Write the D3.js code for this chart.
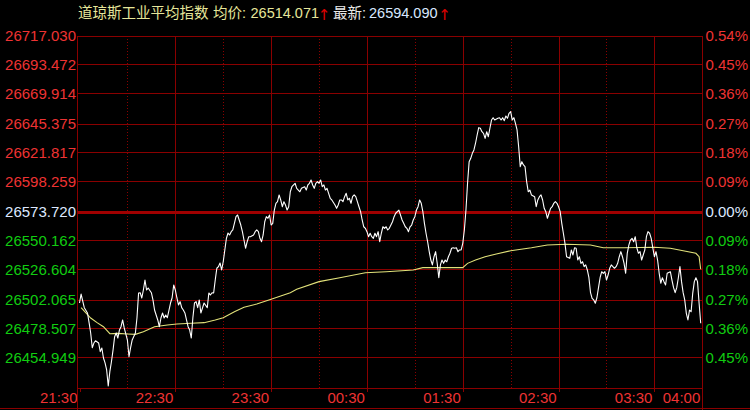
<!DOCTYPE html>
<html><head><meta charset="utf-8">
<script src="https://cdn.jsdelivr.net/npm/d3@7"></script>
<style>
html,body{margin:0;padding:0;background:#000;}
svg{display:block;}
</style></head><body>
<svg id="chart" width="750" height="410"></svg>
<script>
// ---------- data ----------
const titleName = "道琼斯工业平均指数";
const avgLabel = "均价:";
const avgValue = "26514.071";
const lastLabel = "最新:";
const lastValue = "26594.090";
const prevClose = 26573.720;

const priceTicks = [26717.030, 26693.472, 26669.914, 26645.375, 26621.817, 26598.259, 26573.720,
                    26550.162, 26526.604, 26502.065, 26478.507, 26454.949, 26430.410];
const priceLabels = ["26717.030","26693.472","26669.914","26645.375","26621.817","26598.259","26573.720",
                     "26550.162","26526.604","26502.065","26478.507","26454.949",""];
const pctLabels = ["0.54%","0.45%","0.36%","0.27%","0.18%","0.09%","0.00%",
                   "0.09%","0.18%","0.27%","0.36%","0.45%",""];

// minutes since 21:30
const timeTickMinutes = [0, 60, 120, 180, 240, 300, 360, 390];
const timeLabels = ["21:30","22:30","23:30","00:30","01:30","02:30","03:30","04:00"];
const halfHourGrid = [60, 120, 180, 240, 300, 360];
const hourGrid = [30, 90, 150, 210, 270, 330];

const minutes = [0,1,3,5,6,7,8,9,10,12,13,14,15,16,17,18,19,20,21,22,23,24,25,26,27,28,30,31,32,33,35,36,37,38,39,40,41,42,43,45,46,47,49,50,51,52,53,54,55,57,58,59,60,61,62,63,64,65,66,67,68,69,70,71,72,73,74,75,76,77,78,80,81,82,83,84,85,86,87,88,89,90,91,92,93,94,95,96,97,98,99,100,101,102,103,104,105,106,107,109,110,111,112,113,114,115,116,117,118,119,120,121,122,123,124,125,126,127,128,129,130,131,132,133,135,136,137,138,139,141,142,143,144,145,146,147,148,149,150,151,152,153,154,155,156,157,158,160,161,162,163,164,165,166,167,168,169,170,171,172,173,174,175,176,177,178,179,180,181,182,183,184,185,186,187,188,189,190,191,192,193,194,195,196,197,198,200,201,202,203,204,205,206,207,208,209,210,211,212,213,214,215,216,217,218,219,220,221,222,223,224,225,226,227,228,229,230,231,232,233,234,235,236,237,238,239,240,241,242,243,244,245,246,247,248,249,250,251,252,253,254,255,256,257,258,259,260,262,263,264,265,266,267,268,269,270,271,272,273,274,275,276,277,278,279,280,281,282,283,285,286,287,288,289,290,291,292,293,294,295,296,297,298,299,300,301,302,303,304,305,307,308,309,310,311,312,313,314,315,316,317,318,319,320,321,322,323,324,325,326,327,328,329,330,331,332,333,335,336,337,338,339,340,341,342,343,344,345,346,347,348,349,350,351,352,353,354,355,356,357,358,359,360,361,362,363,364,365,366,367,368,370,371,372,373,374,375,376,377,378,379,380,381,382,383,384,385,386,387,388,389];
const prices = [26499.2,26506.5,26495.4,26491.1,26483.2,26474.8,26462.8,26466.6,26468.5,26466.6,26459.6,26462.6,26454.4,26450.4,26444.7,26431.6,26443.3,26451.4,26460.9,26471.8,26474.8,26470.7,26477.2,26479.9,26485.4,26478.9,26469.1,26455.5,26462.8,26469.1,26474.8,26487.2,26507.4,26507.6,26503.3,26509.8,26517.9,26509.8,26511.4,26507.6,26501.7,26493.5,26485.4,26479.9,26487.0,26491.1,26487.0,26489.4,26487.2,26499.2,26503.5,26513.9,26509.8,26503.3,26497.6,26500.3,26495.4,26493.5,26491.1,26485.4,26479.9,26477.2,26470.7,26487.2,26499.2,26500.3,26495.4,26501.7,26491.1,26495.1,26499.2,26495.4,26507.4,26505.7,26507.6,26507.4,26517.9,26527.5,26528.8,26531.8,26526.1,26532.8,26542.4,26551.9,26556.2,26554.6,26557.3,26558.7,26564.1,26569.5,26570.9,26566.8,26562.7,26557.3,26550.5,26543.8,26549.1,26553.2,26553.2,26554.6,26557.3,26558.7,26557.3,26551.9,26549.1,26554.6,26565.4,26569.5,26568.2,26570.9,26562.7,26564.1,26574.9,26580.4,26581.7,26587.2,26583.1,26577.6,26581.7,26579.0,26574.9,26577.6,26589.8,26593.9,26596.7,26592.6,26591.2,26589.8,26592.6,26593.9,26591.2,26595.3,26596.7,26599.4,26595.3,26592.6,26596.7,26598.0,26596.7,26599.4,26593.9,26595.3,26591.2,26592.6,26588.5,26584.5,26583.1,26579.0,26576.3,26579.0,26583.1,26583.1,26581.7,26585.8,26588.5,26583.1,26584.5,26580.4,26585.8,26587.2,26585.8,26581.7,26577.6,26573.6,26566.8,26561.3,26560.0,26557.3,26553.2,26556.0,26553.2,26551.9,26556.0,26553.2,26557.3,26549.1,26556.0,26561.3,26560.0,26561.3,26558.7,26560.0,26562.7,26565.4,26569.5,26572.3,26574.9,26570.9,26566.8,26564.1,26561.3,26560.0,26557.3,26561.3,26562.7,26566.8,26569.5,26574.9,26577.6,26583.1,26580.4,26573.6,26564.1,26556.0,26549.1,26541.0,26534.2,26530.2,26536.9,26541.0,26531.5,26519.8,26530.2,26534.2,26531.5,26534.2,26532.8,26536.9,26539.7,26543.8,26544.2,26543.8,26544.2,26541.0,26542.4,26542.4,26547.8,26558.7,26574.9,26596.7,26614.3,26617.0,26621.1,26623.8,26629.3,26636.0,26642.0,26641.5,26638.7,26637.4,26633.3,26638.7,26634.6,26641.5,26648.2,26650.1,26648.2,26649.6,26650.1,26648.2,26650.1,26647.7,26651.5,26649.6,26653.7,26655.0,26648.2,26650.1,26645.5,26640.1,26626.5,26610.2,26614.3,26611.6,26610.2,26598.0,26589.8,26591.2,26587.2,26585.8,26577.6,26583.1,26585.8,26587.2,26583.1,26576.3,26573.6,26568.2,26572.3,26576.3,26577.6,26580.4,26581.7,26580.4,26577.6,26573.6,26564.1,26556.0,26547.8,26536.9,26535.6,26542.4,26538.3,26544.2,26543.8,26534.2,26536.9,26531.5,26532.8,26528.8,26530.2,26526.1,26519.8,26507.6,26503.0,26501.7,26499.0,26503.5,26511.7,26519.8,26524.7,26523.4,26524.7,26517.9,26522.0,26527.5,26530.2,26527.5,26528.8,26531.5,26536.9,26541.0,26536.9,26531.5,26523.4,26539.7,26546.4,26550.5,26551.9,26549.1,26553.2,26544.2,26539.7,26541.0,26534.2,26538.3,26542.4,26553.2,26557.3,26556.0,26551.9,26544.2,26536.9,26541.0,26534.2,26523.4,26515.3,26519.8,26516.6,26513.9,26523.4,26524.7,26517.9,26511.7,26507.6,26511.7,26519.8,26528.8,26516.6,26507.6,26501.7,26490.8,26485.4,26493.5,26492.1,26507.1,26516.6,26519.8,26516.6,26499.0,26482.7];

const avgMinutes = [1,7,11,15,19,24,30,35,40,47,55,61,70,78,85,90,97,103,111,120,126,132,136,150,163,179,192,209,215,240,243,248,254,261,270,283,293,305,320,328,341,360,370,378,386,388,389];
const avgPrices = [26495.4,26487.0,26483.2,26479.9,26474.2,26474.5,26474.0,26473.7,26475.8,26479.9,26481.3,26482.1,26482.7,26483.2,26485.4,26487.2,26492.1,26495.7,26498.4,26502.2,26504.9,26507.6,26510.4,26516.6,26519.8,26523.9,26524.7,26526.1,26528.0,26528.0,26531.5,26534.2,26536.9,26539.1,26541.8,26544.2,26546.4,26547.0,26546.4,26544.2,26544.2,26544.6,26543.8,26541.8,26539.7,26536.9,26526.7];

// ---------- drawing ----------
const svg = d3.select("#chart");
const FONT = "'Liberation Sans', Arial, 'Noto Sans CJK SC', sans-serif";
const GRID = "#8a0000";
const MID = "#a00000";
const RED = "#ee3333", GREEN = "#11cc11", NEUTRAL = "#dde8ff";

svg.append("rect").attr("width", 750).attr("height", 410).attr("fill", "#000");

const x = d3.scaleLinear().domain([0, 390]).range([79.5, 702.3]);
const y = d3.scaleLinear().domain([26430.410, 26717.030]).range([387.5, 35.5]);
const L = 77.5, R = 702.5, T = 35.5, B = 387.5;

// vertical grid lines
svg.append("g").selectAll("line").data(halfHourGrid).join("line")
  .attr("x1", d => Math.round(x(d)) + 0.5).attr("x2", d => Math.round(x(d)) + 0.5)
  .attr("y1", T).attr("y2", B)
  .attr("stroke", GRID).attr("stroke-width", 1).attr("shape-rendering", "crispEdges");
svg.append("g").selectAll("line").data(hourGrid).join("line")
  .attr("x1", d => Math.round(x(d)) + 0.5).attr("x2", d => Math.round(x(d)) + 0.5)
  .attr("y1", T).attr("y2", B)
  .attr("stroke", GRID).attr("stroke-width", 1).attr("stroke-dasharray", "1,2")
  .attr("shape-rendering", "crispEdges");

// left axis: horizontal grid + price labels
const yLeft = svg.append("g").attr("transform", `translate(${L},0)`)
  .call(d3.axisLeft(y).tickValues(priceTicks).tickSizeInner(-(R - L)).tickSizeOuter(0)
        .tickPadding(1.5).tickFormat((d, i) => priceLabels[i]));
yLeft.select(".domain").remove();
yLeft.selectAll(".tick line")
  .attr("stroke", d => d === prevClose ? MID : GRID)
  .attr("stroke-width", d => d === prevClose ? 3 : 1)
  .attr("shape-rendering", "crispEdges");
yLeft.selectAll(".tick text")
  .attr("font-family", FONT).attr("font-size", 15)
  .attr("fill", d => d > prevClose ? RED : (d < prevClose ? GREEN : NEUTRAL));

// right axis: percent labels
const yRight = svg.append("g").attr("transform", `translate(${R},0)`)
  .call(d3.axisRight(y).tickValues(priceTicks).tickSize(0).tickPadding(3)
        .tickFormat((d, i) => pctLabels[i]));
yRight.select(".domain").remove();
yRight.selectAll(".tick text")
  .attr("font-family", FONT).attr("font-size", 15)
  .attr("fill", d => d > prevClose ? RED : (d < prevClose ? GREEN : NEUTRAL));

// bottom time axis
const xAxis = svg.append("g").attr("transform", `translate(0,${B})`)
  .call(d3.axisBottom(x).tickValues(timeTickMinutes).tickSizeInner(4).tickSizeOuter(0)
        .tickFormat((d, i) => timeLabels[i]));
xAxis.select(".domain").remove();
xAxis.selectAll(".tick line").attr("stroke", GRID).attr("shape-rendering", "crispEdges");
xAxis.selectAll(".tick text")
  .attr("font-family", FONT).attr("font-size", 15).attr("fill", RED)
  .attr("text-anchor", "end").attr("x", -2.5).attr("y", 15).attr("dy", 0);

// frame
const frame = svg.append("g").attr("stroke", GRID).attr("shape-rendering", "crispEdges");
frame.append("line").attr("x1", L).attr("x2", L).attr("y1", T).attr("y2", 410);
frame.append("line").attr("x1", R).attr("x2", R).attr("y1", T).attr("y2", 410);
frame.append("line").attr("x1", 0).attr("x2", 750).attr("y1", 408.5).attr("y2", 408.5);

// average price line
const avgData = avgMinutes.map((m, i) => [m, avgPrices[i]]);
svg.append("path").datum(avgData)
  .attr("fill", "none").attr("stroke", "#e2e27a").attr("stroke-width", 1.1)
  .attr("d", d3.line().x(d => x(d[0])).y(d => y(d[1])));

// price line
const priceData = minutes.map((m, i) => [m, prices[i]]);
svg.append("path").datum(priceData)
  .attr("fill", "none").attr("stroke", "#ffffff").attr("stroke-width", 1.1)
  .attr("stroke-linejoin", "round")
  .attr("d", d3.line().x(d => x(d[0])).y(d => y(d[1])));

// title
const title = svg.append("text").attr("y", 18).attr("font-family", FONT).attr("font-size", 14.5);
title.append("tspan").attr("x", 78).attr("fill", "#e6e69a").text(titleName);
title.append("tspan").attr("x", 213).attr("fill", "#e6e69a").text(avgLabel);
title.append("tspan").attr("x", 250.5).attr("fill", "#e6e69a").text(avgValue);
title.append("tspan").attr("x", 333).attr("fill", "#e8e8e8").text(lastLabel);
title.append("tspan").attr("x", 369).attr("fill", "#d8e8ff").text(lastValue);
// red up arrows
const arrowFont = "'DejaVu Sans', sans-serif";
svg.append("text").attr("x", 324).attr("y", 20).attr("text-anchor", "middle")
  .attr("font-family", arrowFont).attr("font-size", 15).attr("fill", "#e00000").text("↑");
svg.append("text").attr("x", 444.5).attr("y", 20).attr("text-anchor", "middle")
  .attr("font-family", arrowFont).attr("font-size", 15).attr("fill", "#e00000").text("↑");
</script>
</body></html>
